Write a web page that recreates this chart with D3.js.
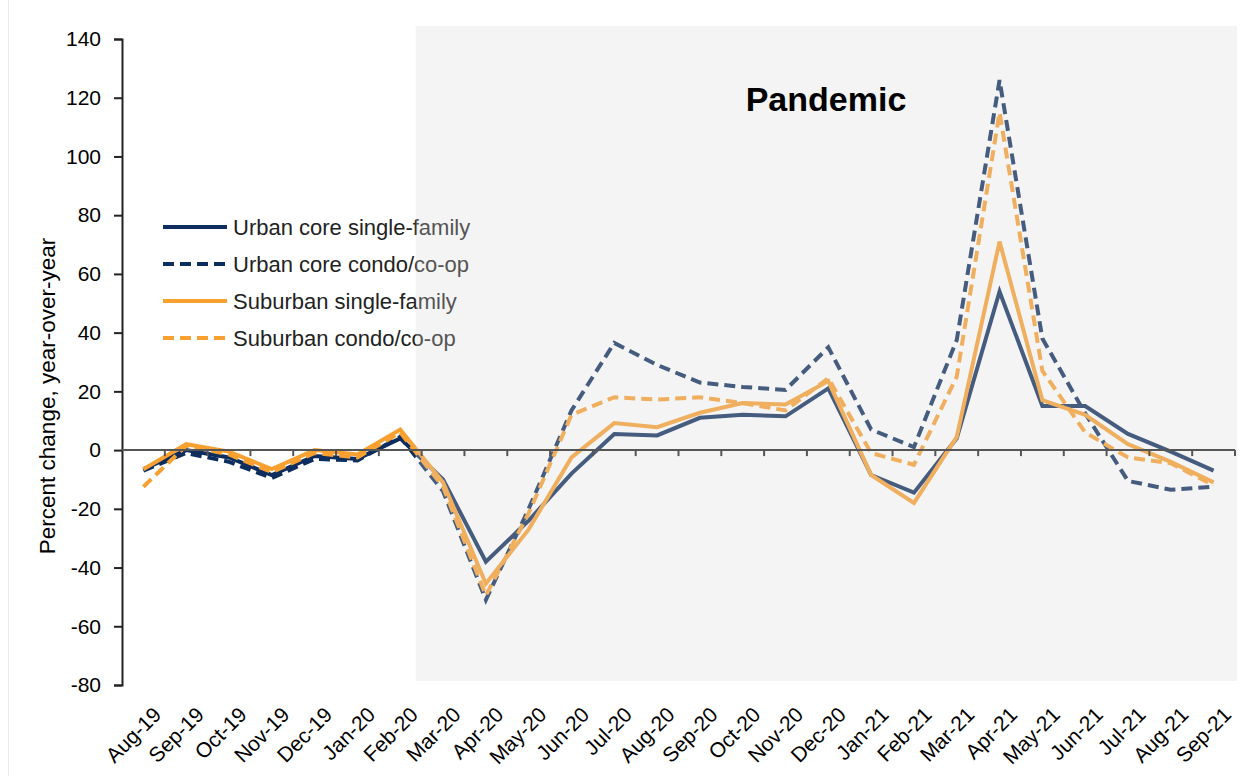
<!DOCTYPE html>
<html>
<head>
<meta charset="utf-8">
<script src="https://cdn.jsdelivr.net/npm/d3@7"></script>
<style>
  html, body { margin: 0; padding: 0; background: #fff; }
  svg { display: block; font-family: "Liberation Sans", Arial, sans-serif; }
</style>
</head>
<body>
<svg id="chart" width="1244" height="776"></svg>
<script>
const months = ["Aug-19","Sep-19","Oct-19","Nov-19","Dec-19","Jan-20","Feb-20","Mar-20","Apr-20","May-20","Jun-20","Jul-20","Aug-20","Sep-20","Oct-20","Nov-20","Dec-20","Jan-21","Feb-21","Mar-21","Apr-21","May-21","Jun-21","Jul-21","Aug-21","Sep-21"];
const urbanSF = [-6.5, 0, -2.5, -8.5, -2, -3, 4, -10, -38, -24, -8, 5.5, 5, 11, 12, 11.5, 21, -8.5, -14.5, 4, 54, 15, 15, 5.5, -0.5, -7];
const urbanCondo = [-7, -1, -4, -9.5, -3, -3.5, 4.5, -14, -51, -20, 13.5, 36.5, 29, 23, 21.5, 20.5, 35, 7, 1, 37.5, 126, 38, 12.5, -10.5, -13.5, -12.5];
const suburbanSF = [-6.5, 2, -0.5, -6.5, 0, -1.5, 7, -11, -45.5, -27, -2.5, 9.2, 7.8, 12.7, 16, 15.5, 23.5, -8.5, -18, 4.5, 71, 17, 12, 2, -4, -11];
const suburbanCondo = [-12.5, 1.5, -1.5, -7.5, -1, -2.5, 6, -12.5, -49.5, -21.5, 12, 18, 17.2, 18, 16, 13.5, 24.5, -1, -5, 25, 115, 27, 6, -2.5, -4.5, -12];
const yTicks = [140, 120, 100, 80, 60, 40, 20, 0, -20, -40, -60, -80];
const seriesNames = ["Urban core single-family", "Urban core condo/co-op", "Suburban single-family", "Suburban condo/co-op"];
const pandemicStart = "Mar-20";

const NAVY = "#0d2d5e", ORANGE = "#f8a030";
const series = [
  {name: seriesNames[0], values: urbanSF, color: NAVY, dash: null},
  {name: seriesNames[1], values: urbanCondo, color: NAVY, dash: "11,6"},
  {name: seriesNames[2], values: suburbanSF, color: ORANGE, dash: null},
  {name: seriesNames[3], values: suburbanCondo, color: ORANGE, dash: "11,6"}
];

const svg = d3.select("#chart");
const mLeft = 122, mRight = 1235, mTop = 39, mBottom = 685;

const x = d3.scaleBand().domain(months).range([mLeft, mRight]).padding(0);
const y = d3.scaleLinear().domain([-80, 140]).range([mBottom, mTop]);
const cx = m => x(m) + x.bandwidth() / 2;

// faint left border
svg.append("line").attr("x1", 8.5).attr("x2", 8.5).attr("y1", 0).attr("y2", 776)
  .attr("stroke", "#ececec").attr("stroke-width", 1);

// Y axis
const yAxis = d3.axisLeft(y).tickValues(yTicks).tickSize(8).tickPadding(13).tickFormat(d => String(d));
const gy = svg.append("g").attr("transform", `translate(${mLeft},0)`).call(yAxis);
gy.select(".domain").attr("stroke", "#222").attr("stroke-width", 2);
gy.selectAll(".tick line").attr("stroke", "#222").attr("stroke-width", 2);
gy.selectAll(".tick text").attr("fill", "#000").style("font-size", "21px");

// Y title
svg.append("text")
  .attr("transform", `translate(55,396) rotate(-90)`)
  .attr("text-anchor", "middle")
  .style("font-size", "22.5px")
  .attr("fill", "#000")
  .text("Percent change, year-over-year");

// X labels
svg.append("g").selectAll("text").data(months).join("text")
  .attr("transform", d => `translate(${cx(d) + 19},${mBottom + 31}) rotate(-45)`)
  .attr("text-anchor", "end")
  .style("font-size", "21px")
  .attr("fill", "#000")
  .text(d => d);

// Lines
const line = d3.line().x((d, i) => cx(months[i])).y(d => y(d));
svg.append("g").selectAll("path").data(series).join("path")
  .attr("d", d => line(d.values))
  .attr("fill", "none")
  .attr("stroke", d => d.color)
  .attr("stroke-width", 4)
  .attr("stroke-dasharray", d => d.dash)
  .attr("stroke-linejoin", "miter");

// Legend
const lg = svg.append("g").attr("transform", "translate(163,227)");
const li = lg.selectAll("g").data(series).join("g").attr("transform", (d, i) => `translate(0,${i * 37})`);
li.append("line").attr("x1", 0).attr("x2", 64).attr("y1", 0).attr("y2", 0)
  .attr("stroke", d => d.color).attr("stroke-width", 4).attr("stroke-dasharray", d => d.dash);
li.append("text").attr("x", 70).attr("y", 8).style("font-size", "22px").attr("fill", "#222").text(d => d.name);

// Pandemic shade overlay
const shadeX = x(pandemicStart) - 6;
svg.append("rect")
  .attr("x", shadeX).attr("y", y(140) - 13)
  .attr("width", mRight + 2 - shadeX).attr("height", (y(-80) - 4) - (y(140) - 13))
  .attr("fill", "rgb(216,216,216)").attr("fill-opacity", 0.28);

// Zero line with ticks at category boundaries
const gx = svg.append("g").attr("transform", `translate(0,${y(0)})`);
gx.append("line").attr("x1", mLeft).attr("x2", mRight).attr("stroke", "#555").attr("stroke-width", 2);
const bounds = months.map(m => x(m) + x.bandwidth());
gx.selectAll("line.tk").data(bounds).join("line").attr("class", "tk")
  .attr("x1", d => d).attr("x2", d => d).attr("y1", 0).attr("y2", 6)
  .attr("stroke", "#555").attr("stroke-width", 2);

// Pandemic label
svg.append("text")
  .attr("x", 826).attr("y", 111)
  .attr("text-anchor", "middle")
  .style("font-size", "34px").style("font-weight", "bold")
  .attr("fill", "#000")
  .text("Pandemic");
</script>
</body>
</html>
